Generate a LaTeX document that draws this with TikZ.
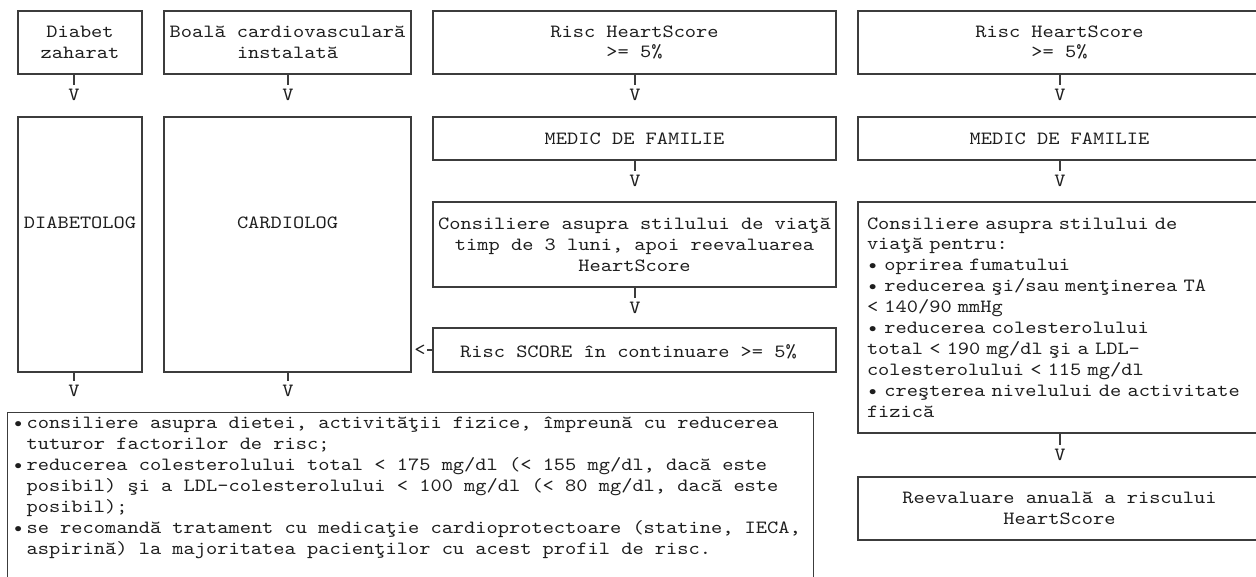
\documentclass[tikz,border=0pt]{standalone}
\usepackage{fontspec}
\newfontfamily\courfont{lmmono10-regular.otf}[FakeStretch=1.145,WordSpace={1,0,0},PunctuationSpace=WordSpace]
\definecolor{ink}{HTML}{1E1E1E}
\definecolor{rule}{HTML}{3C3C3C}
\newcommand{\blt}{\llap{•\hspace{2pt}}}

\begin{document}
\begin{tikzpicture}[x=0.75pt,y=-0.75pt]
\useasboundingbox (0,0) rectangle (1256,577);
\begin{scope}[
    every node/.style={font=\courfont\fontsize{14}{15.7}\selectfont\frenchspacing,text=ink},
    box/.style={draw=rule,line width=0.8pt,inner sep=0pt,align=center},
    every label/.append style={inner sep=0pt}]
    % % first row
    \node (1) at (80,42.5) [box,minimum width=93pt,minimum height=47.25pt] {Diabet\\zaharat};
    \node (2) at (287.5,42.5) [box,minimum width=185.25pt,minimum height=47.25pt] {Boală cardiovasculară\\instalată};
    \node (3) at (634.5,42.5) [box,minimum width=302.25pt,minimum height=47.25pt] {Risc HeartScore\\>= 5\%};
    \node (4) at (1059.5,42.5) [box,minimum width=302.25pt,minimum height=47.25pt] {Risc HeartScore\\>= 5\%};

    % % specialists
    \node (5) at (80,244.5) [box,minimum width=93pt,minimum height=191.25pt,
        label={[yshift=16pt]center:DIABETOLOG}] {};
    \node (6) at (287.5,244.5) [box,minimum width=185.25pt,minimum height=191.25pt,
        label={[yshift=16pt]center:CARDIOLOG}] {};

    % % middle column
    \node (7) at (634.5,138.5) [box,minimum width=302.25pt,minimum height=32.25pt] {MEDIC DE FAMILIE};
    \node (9) at (634.5,244.5) [box,minimum width=302.25pt,minimum height=63.75pt]
        {Consiliere asupra stilului de viaţă\\timp de 3 luni, apoi reevaluarea\\HeartScore};
    \node (10) at (634.5,350) [box,minimum width=302.25pt,minimum height=33pt,
        label={[xshift=-4.5pt,yshift=-1.5pt]center:Risc SCORE în continuare >= 5\%}] {};

    % % right column
    \node (8) at (1059.5,138.5) [box,minimum width=302.25pt,minimum height=32.25pt] {MEDIC DE FAMILIE};
    \node (11) at (1059.5,317.5) [box,minimum width=302.25pt,minimum height=173.25pt,
        align=left,text width=288.75pt,inner xsep=6.75pt]
        {Consiliere asupra stilului de\\viaţă pentru:\\• oprirea fumatului\\• reducerea şi/sau menţinerea TA\\< 140/90 mmHg\\• reducerea colesterolului\\total < 190 mg/dl şi a LDL-\\colesterolului < 115 mg/dl\\\mbox{• creşterea nivelului de activitate}\\fizică};
    \node (12) at (1059.5,508.5) [box,minimum width=302.25pt,minimum height=47.25pt]
        {Reevaluare anuală a riscului\\HeartScore};

    % % bottom box
    \node (13) at (7,412) [box,anchor=north west,minimum width=604.5pt,minimum height=141pt,
        label={[anchor=north west,align=left,xshift=14.5pt,yshift=-3.5pt]north west:{%
            \blt consiliere asupra dietei, activităţii fizice, împreună cu reducerea\\
            tuturor factorilor de risc;\\
            \blt reducerea colesterolului total < 175 mg/dl (< 155 mg/dl, dacă este\\
            posibil) şi a LDL-colesterolului < 100 mg/dl (< 80 mg/dl, dacă este\\
            posibil);\\
            \blt se recomandă tratament cu medicaţie cardioprotectoare (statine, IECA,\\
            aspirină) la majoritatea pacienţilor cu acest profil de risc.}}] {};
\end{scope}

\begin{scope}[every node/.style={font=\courfont\fontsize{14}{15.7}\selectfont,text=ink,inner sep=0pt,outer ysep=3pt,outer xsep=1pt},
              every path/.style={draw=rule,line width=0.8pt}]
    \node (a1) at (74,95) {V};
    \node (a2) at (288,95) {V};
    \node (a3) at (635,95) {V};
    \node (a4) at (1060,95) {V};
    \node (a5) at (635,181) {V};
    \node (a6) at (1060,181) {V};
    \node (a7) at (635,308) {V};
    \node (a8) at (74,391) {V};
    \node (a9) at (288,391) {V};
    \node (a10) at (1060,455) {V};
    \node (lt) at (420,350) {<};

    \path (1.south -| a1) -- (a1.north);
    \path (2.south -| a2) -- (a2.north);
    \path (3.south -| a3) -- (a3.north);
    \path (4.south -| a4) -- (a4.north);
    \path (7.south -| a5) -- (a5.north);
    \path (8.south -| a6) -- (a6.north);
    \path (9.south -| a7) -- (a7.north);
    \path (5.south -| a8) -- (a8.north);
    \path (6.south -| a9) -- (a9.north);
    \path (11.south -| a10) -- (a10.north);
    \path (10.west) -- (lt.east);
\end{scope}
\end{tikzpicture}
\end{document}
